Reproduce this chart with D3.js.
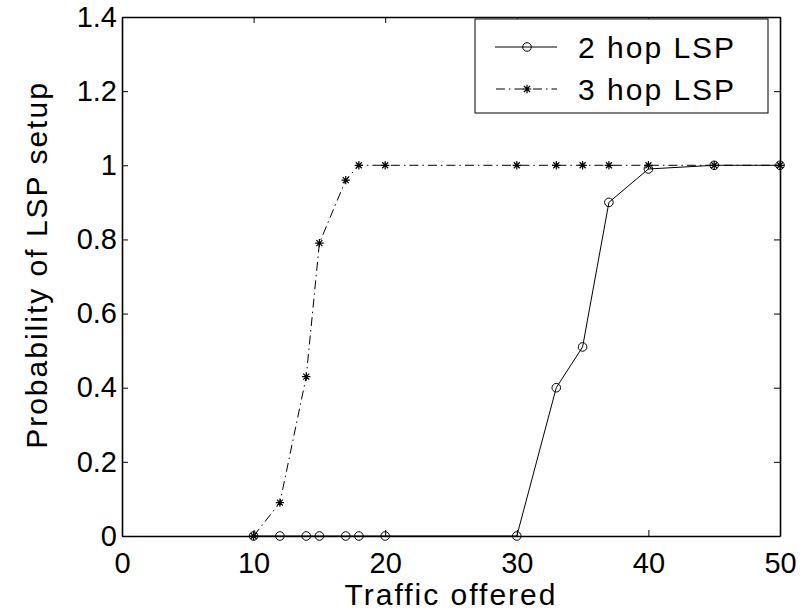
<!DOCTYPE html>
<html>
<head>
<meta charset="utf-8">
<script src="https://cdn.jsdelivr.net/npm/d3@7"></script>
<style>
  body { margin: 0; background: #fff; }
  svg { display: block; }
  text { font-family: "Liberation Sans", Arial, Helvetica, sans-serif; fill: #000; }
</style>
</head>
<body>
<svg id="chart" width="803" height="613"></svg>
<script>
// data
var traffic = [10, 12, 14, 15, 17, 18, 20, 30, 33, 35, 37, 40, 45, 50],
    twoHop = [0, 0, 0, 0, 0, 0, 0, 0, 0.40, 0.51, 0.90, 0.99, 1, 1],
    threeHop = [0, 0.09, 0.43, 0.79, 0.96, 1, 1, 1, 1, 1, 1, 1, 1, 1],
    seriesNames = ["2 hop LSP", "3 hop LSP"],
    xTicks = [0, 10, 20, 30, 40, 50],
    yTicks = [0, 0.2, 0.4, 0.6, 0.8, 1, 1.2, 1.4];

var svg = d3.select("#chart"),
    margin = {top: 17, right: 23, bottom: 77, left: 122},
    width = 803 - margin.left - margin.right,
    height = 613 - margin.top - margin.bottom;

var g = svg.append("g").attr("transform", "translate(" + margin.left + "," + margin.top + ")");

var x = d3.scaleLinear().domain([0, 50]).range([0, width]),
    y = d3.scaleLinear().domain([0, 1.4]).range([height, 0]);

var fmt = d3.format("~g");

// axes, ticks pointing inward like matlab
function styleAxis(sel) {
  sel.select(".domain").attr("stroke", "#000").attr("stroke-width", 1.6);
  sel.selectAll(".tick line").attr("stroke", "#000").attr("stroke-width", 1);
  sel.selectAll("text").style("font-size", "29px").attr("fill", "#000");
}

g.append("g")
    .attr("transform", "translate(0," + height + ")")
    .call(d3.axisBottom(x).tickValues(xTicks).tickFormat(fmt).tickSize(-6).tickSizeOuter(0).tickPadding(16))
    .call(styleAxis);

g.append("g")
    .call(d3.axisLeft(y).tickValues(yTicks).tickFormat(fmt).tickSize(-6).tickSizeOuter(0).tickPadding(5))
    .call(styleAxis);

g.append("g")
    .call(d3.axisTop(x).tickValues(xTicks).tickFormat("").tickSize(-6).tickSizeOuter(0))
    .call(styleAxis);

g.append("g")
    .attr("transform", "translate(" + width + ",0)")
    .call(d3.axisRight(y).tickValues(yTicks).tickFormat("").tickSize(-6).tickSizeOuter(0))
    .call(styleAxis);

// axis titles
svg.append("text")
    .attr("x", margin.left + width / 2)
    .attr("y", 605)
    .attr("text-anchor", "middle")
    .style("font-size", "30px")
    .style("letter-spacing", "2px")
    .text("Traffic offered");

svg.append("text")
    .attr("transform", "translate(47," + 265 + ") rotate(-90)")
    .attr("text-anchor", "middle")
    .style("font-size", "30px")
    .style("letter-spacing", "2px")
    .text("Probability of LSP setup");

// lines
var line2 = d3.line().x(function(d, i) { return x(traffic[i]); }).y(function(d) { return y(d); });

g.append("path")
    .datum(twoHop)
    .attr("d", line2)
    .attr("fill", "none")
    .attr("stroke", "#000")
    .attr("stroke-width", 1);

g.append("path")
    .datum(threeHop)
    .attr("d", line2)
    .attr("fill", "none")
    .attr("stroke", "#000")
    .attr("stroke-width", 1)
    .attr("stroke-dasharray", "9,4,1.5,4");

// markers
function circleMark(sel) {
  sel.append("circle").attr("r", 4.3).attr("fill", "none").attr("stroke", "#000").attr("stroke-width", 1);
}
function starMark(sel) {
  var s = 4.2, d = 3;
  sel.append("path")
      .attr("d", "M" + -s + ",0H" + s + "M0," + -s + "V" + s +
                 "M" + -d + "," + -d + "L" + d + "," + d + "M" + -d + "," + d + "L" + d + "," + -d)
      .attr("stroke", "#000")
      .attr("stroke-width", 1.2)
      .attr("fill", "none");
}

g.selectAll(".m2").data(twoHop).enter().append("g")
    .attr("class", "m2")
    .attr("transform", function(d, i) { return "translate(" + x(traffic[i]) + "," + y(d) + ")"; })
    .each(function() { circleMark(d3.select(this)); });

g.selectAll(".m3").data(threeHop).enter().append("g")
    .attr("class", "m3")
    .attr("transform", function(d, i) { return "translate(" + x(traffic[i]) + "," + y(d) + ")"; })
    .each(function() { starMark(d3.select(this)); });

// legend
var lg = svg.append("g").attr("transform", "translate(475,19)");
lg.append("rect")
    .attr("width", 293).attr("height", 94)
    .attr("fill", "#fff").attr("stroke", "#000").attr("stroke-width", 1);

seriesNames.forEach(function(name, i) {
  var row = lg.append("g").attr("transform", "translate(0," + (28 + i * 42) + ")");
  var ln = row.append("line")
      .attr("x1", 20).attr("x2", 82)
      .attr("stroke", "#000").attr("stroke-width", 1);
  if (i === 1) ln.attr("stroke-dasharray", "9,4,1.5,4").attr("x1", 21);
  var mk = row.append("g").attr("transform", "translate(52,0)");
  if (i === 0) circleMark(mk); else starMark(mk);
  row.append("text")
      .attr("x", 103)
      .attr("dy", "0.36em")
      .style("font-size", "30px")
      .style("letter-spacing", "2px")
      .text(name);
});
</script>
</body>
</html>
